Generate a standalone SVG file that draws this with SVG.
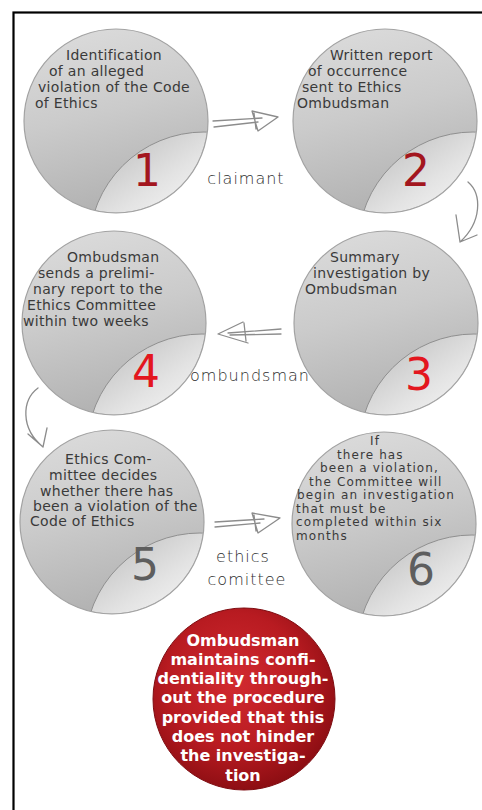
<svg xmlns="http://www.w3.org/2000/svg" xmlns:xlink="http://www.w3.org/1999/xlink" width="482" height="810" viewBox="0 0 482 810">
<style>
.t{font-family:"DejaVu Sans","Liberation Sans",sans-serif;font-size:14px;letter-spacing:0.3px;fill:#3a3a3a}
.t6{font-family:"DejaVu Sans","Liberation Sans",sans-serif;font-size:12px;letter-spacing:1.1px;fill:#3a3a3a}
.n{font-family:"DejaVu Sans","Liberation Sans",sans-serif;font-size:44px;text-anchor:middle}
.lab{font-family:"DejaVu Sans","Liberation Sans",sans-serif;font-size:16px;font-weight:200;fill:#2e2e2e;text-anchor:middle;letter-spacing:1px}
.w{font-family:"DejaVu Sans","Liberation Sans",sans-serif;font-size:16px;font-weight:bold;fill:#ffffff;text-anchor:middle}
.arr{fill:none;stroke:#8c8c8c;stroke-width:1.3;stroke-linecap:round;stroke-linejoin:round}
</style>
<defs>
<linearGradient id="gMain" x1="0.1" y1="0" x2="0.35" y2="1">
<stop offset="0" stop-color="#dcdcdc"/>
<stop offset="0.5" stop-color="#cbcbcb"/>
<stop offset="1" stop-color="#b2b2b2"/>
</linearGradient>
<linearGradient id="gLow" gradientUnits="userSpaceOnUse" x1="20" y1="20" x2="70" y2="92">
<stop offset="0" stop-color="#c9c9c9"/>
<stop offset="0.55" stop-color="#e3e3e3"/>
<stop offset="1" stop-color="#f4f4f4"/>
</linearGradient>
<radialGradient id="gRed" cx="0.45" cy="0.4" r="0.62">
<stop offset="0" stop-color="#d22a30"/>
<stop offset="0.6" stop-color="#b81b21"/>
<stop offset="1" stop-color="#8a0d12"/>
</radialGradient>
<clipPath id="clipDisc"><circle cx="0" cy="0" r="91.5"/></clipPath>
<g id="disc">
<circle cx="0" cy="0" r="92" fill="url(#gMain)"/>
<circle cx="88" cy="126" r="115" fill="url(#gLow)" stroke="#8f8f8f" stroke-width="1" clip-path="url(#clipDisc)"/>
<circle cx="0" cy="0" r="92" fill="none" stroke="#a2a2a2" stroke-width="1.2"/>
</g>
</defs>
<rect x="0" y="0" width="482" height="810" fill="#ffffff"/>
<rect x="13.5" y="12.5" width="520" height="860" fill="none" stroke="#000000" stroke-width="2.2"/>

<g id="connectors">
<g id="c12">
<path class="arr" d="M213,121 L262,118 M214,127 L258,122"/>
<path class="arr" d="M252,111 L278,117 L258,131 Z M254,113 L256,129"/>
</g>
<path id="c23" class="arr" d="M468,182 C482,194 482,222 460,242 M456,215 L460,242 L477,235"/>
<g id="c34">
<path class="arr" d="M281,329 L228,333 M281,334 L230,335"/>
<path class="arr" d="M243,322 L218,334 L248,343 M244,323 L246,341"/>
</g>
<path id="c45" class="arr" d="M38,388 C22,400 20,428 43,447 M28,434 L43,447 L47,428"/>
<g id="c56">
<path class="arr" d="M215,522 L264,519 M215,527 L260,523"/>
<path class="arr" d="M252,513 L280,518 L258,533 Z M254,515 L256,531"/>
</g>
<text class="lab" x="246" y="184">claimant</text>
<text class="lab" x="250" y="381">ombundsman</text>
<text class="lab" x="243" y="562">ethics</text>
<text class="lab" x="247" y="585">comittee</text>
</g>

<g id="node1">
<use xlink:href="#disc" x="116" y="121"/>
<text class="t"><tspan x="66" y="60">Identification</tspan><tspan x="49" y="76">of an alleged</tspan><tspan x="38" y="92">violation of the Code</tspan><tspan x="35" y="108">of Ethics</tspan></text>
<text class="n" x="147" y="186" fill="#a3161e">1</text>
</g>
<g id="node2">
<use xlink:href="#disc" x="385" y="121"/>
<text class="t"><tspan x="330" y="60">Written report</tspan><tspan x="308" y="76">of occurrence</tspan><tspan x="302" y="92">sent to Ethics</tspan><tspan x="297" y="108">Ombudsman</tspan></text>
<text class="n" x="416" y="186" fill="#a3161e">2</text>
</g>
<g id="node3">
<use xlink:href="#disc" x="386" y="323"/>
<text class="t"><tspan x="330" y="262">Summary</tspan><tspan x="313" y="278">investigation by</tspan><tspan x="305" y="294">Ombudsman</tspan></text>
<text class="n" x="419" y="390" fill="#e3161e">3</text>
</g>
<g id="node4">
<use xlink:href="#disc" x="114" y="323"/>
<text class="t"><tspan x="67" y="262">Ombudsman</tspan><tspan x="38" y="278">sends a prelimi-</tspan><tspan x="33" y="294">nary report to the</tspan><tspan x="27" y="310">Ethics Committee</tspan><tspan x="23" y="326">within two weeks</tspan></text>
<text class="n" x="146" y="387" fill="#e3161e">4</text>
</g>
<g id="node5">
<use xlink:href="#disc" x="112" y="522"/>
<text class="t"><tspan x="65" y="464">Ethics Com-</tspan><tspan x="49" y="480">mittee decides</tspan><tspan x="40" y="496">whether there has</tspan><tspan x="33" y="511">been a violation of the</tspan><tspan x="30" y="526">Code of Ethics</tspan></text>
<text class="n" x="145" y="580" fill="#5e5e5e">5</text>
</g>
<g id="node6">
<use xlink:href="#disc" x="384" y="524"/>
<text class="t6"><tspan x="370" y="445">If</tspan><tspan x="337" y="458.5">there has</tspan><tspan x="320" y="472">been a violation,</tspan><tspan x="309" y="485.5">the Committee will</tspan><tspan x="297" y="499">begin an investigation</tspan><tspan x="296" y="512.5">that must be</tspan><tspan x="296" y="526">completed within six</tspan><tspan x="296" y="539.5">months</tspan></text>
<text class="n" x="421" y="585" fill="#5e5e5e">6</text>
</g>
<g id="node7">
<circle cx="244" cy="699" r="91" fill="url(#gRed)" stroke="#7e0b10" stroke-width="1"/>
<text class="w"><tspan x="243" y="646">Ombudsman</tspan><tspan x="243" y="665">maintains confi-</tspan><tspan x="243" y="684">dentiality through-</tspan><tspan x="243" y="703">out the procedure</tspan><tspan x="243" y="723">provided that this</tspan><tspan x="243" y="742">does not hinder</tspan><tspan x="243" y="761">the investiga-</tspan><tspan x="243" y="781">tion</tspan></text>
</g>
</svg>
